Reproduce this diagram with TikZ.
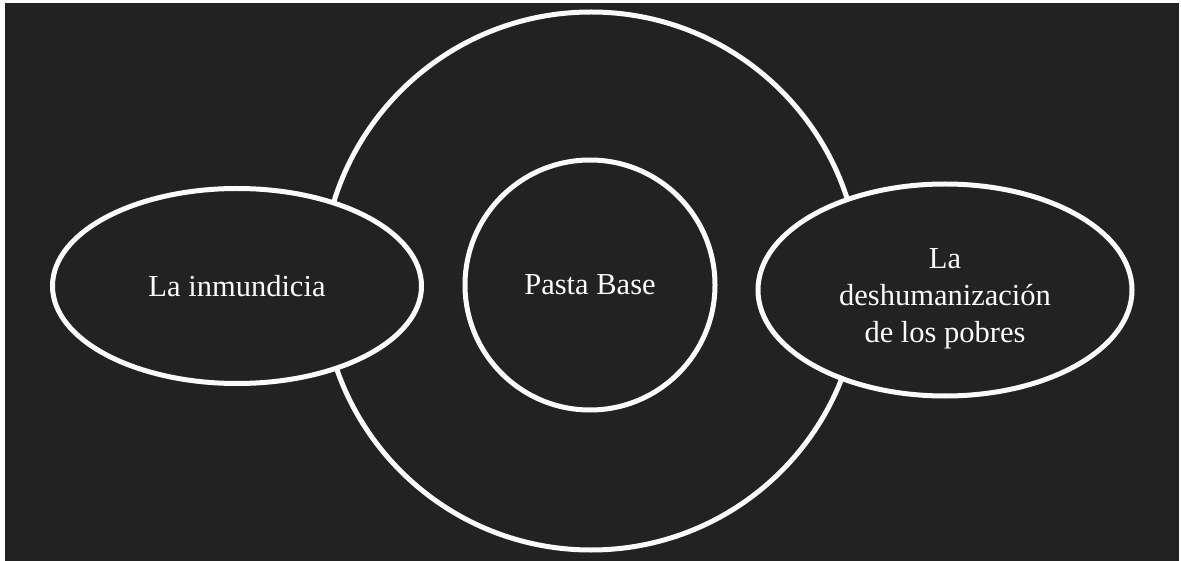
\documentclass[tikz,border=0pt]{standalone}
\usepackage{fontspec}
\setmainfont{Liberation Serif}
\usepackage{xcolor}
\usetikzlibrary{shapes.geometric}
\definecolor{bgdark}{HTML}{222222}
\definecolor{inkwhite}{HTML}{FAFAFA}
\tikzset{
  ring/.style={ellipse,draw=inkwhite,line width=5pt,fill=bgdark,inner sep=0pt,
    text=inkwhite,align=center,font=\fontsize{30.5}{37}\selectfont},
}

\begin{document}
\begin{tikzpicture}[x=1pt,y=-1pt,line join=round]
  \useasboundingbox (0,0) rectangle (1181,561);
  % page and dark background
  \fill[white] (0,0) rectangle (1181,561);
  \fill[bgdark] (5,3) rectangle (1179,561);
  % large outer circle
  \node[ring,minimum width=538pt,minimum height=538pt] (outer) at (591,281) {};
  % side ellipses and centre circle
  \node[ring,minimum width=369pt,minimum height=195pt] (inmund) at (237,286) {La inmundicia};
  \node[ring,minimum width=250pt,minimum height=250pt] (pasta) at (590,285) {Pasta Base};
  \node[ring,minimum width=374pt,minimum height=212pt] (deshum) at (945,290)
    {\rule{0pt}{38pt}La\\deshumanización\\de los pobres}; % strut drops the block a little
\end{tikzpicture}
\end{document}
